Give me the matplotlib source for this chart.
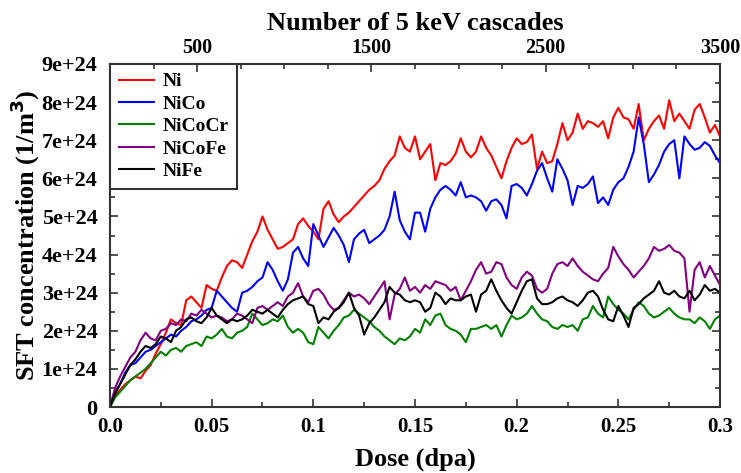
import numpy as np
import matplotlib
matplotlib.use("Agg")
import matplotlib.pyplot as plt
from matplotlib.ticker import MultipleLocator, FuncFormatter

plt.rcParams['font.family'] = ['Liberation Serif', 'DejaVu Serif']
plt.rcParams['font.weight'] = 'bold'

# dose grid (dpa), step 0.0025
dose = np.arange(121) * 0.0025

# SFT concentration, units of 1e24 1/m^3
ni = [0, 0.3, 0.45, 0.6, 0.7, 0.8, 0.75, 0.95, 1.1, 1.4,
      1.65, 1.95, 2.3, 2.2, 2.15, 2.8, 2.9, 2.75, 2.6, 3.2,
      3.1, 3.05, 3.4, 3.7, 3.85, 3.8, 3.65, 4.0, 4.35, 4.6,
      5.0, 4.65, 4.4, 4.15, 4.2, 4.3, 4.4, 4.8, 4.95, 4.75,
      4.6, 4.4, 5.2, 5.4, 5.05, 4.85, 5.0, 5.1, 5.25, 5.4,
      5.55, 5.7, 5.8, 5.95, 6.25, 6.45, 6.6, 7.1, 6.8, 6.7,
      7.1, 6.5, 6.7, 6.9, 5.95, 6.4, 6.35, 6.45, 6.65, 7.05,
      6.7, 6.55, 6.7, 7.1, 6.8, 6.6, 6.3, 6.0, 6.45, 6.8,
      7.05, 6.9, 6.95, 7.15, 6.25, 6.7, 6.4, 6.45, 6.9, 7.45,
      7.0, 7.2, 7.7, 7.3, 7.5, 7.45, 7.35, 7.5, 7.05, 7.6,
      7.85, 7.6, 7.55, 7.3, 7.95, 7.0, 7.3, 7.5, 7.65, 7.3,
      8.05, 7.5, 7.7, 7.5, 7.3, 7.8, 7.95, 7.6, 7.2, 7.4,
      7.1]
nico = [0, 0.4, 0.6, 0.9, 1.1, 1.15, 1.3, 1.45, 1.5, 1.6,
        1.7, 1.8, 1.9, 1.85, 2.0, 2.1, 2.25, 2.3, 2.4, 2.55,
        2.6, 3.05, 2.9, 2.75, 2.6, 2.5, 3.0, 3.05, 3.15, 3.3,
        3.4, 3.8, 3.6, 3.3, 3.05, 3.35, 4.05, 4.2, 3.9, 3.7,
        4.8, 4.5, 4.2, 4.45, 4.7, 4.5, 4.25, 3.8, 4.4, 4.55,
        4.65, 4.3, 4.4, 4.5, 4.65, 5.0, 5.65, 4.9, 4.6, 4.4,
        5.1, 5.1, 4.6, 5.2, 5.5, 5.7, 5.8, 5.7, 5.55, 5.9,
        5.5, 5.55, 5.5, 5.4, 5.15, 5.4, 5.45, 5.3, 4.95, 5.8,
        5.85, 5.75, 5.55, 5.85, 6.2, 6.4, 6.0, 5.65, 6.5, 6.25,
        5.95, 5.3, 5.8, 5.75, 5.85, 6.05, 5.35, 5.5, 5.3, 5.7,
        5.9, 6.0, 6.3, 6.7, 7.6, 6.9, 5.9, 6.1, 6.35, 6.7,
        6.9, 7.0, 6.0, 7.1, 6.9, 6.75, 6.8, 6.95, 6.85, 6.6,
        6.4]
nicocr = [0, 0.25, 0.4, 0.55, 0.7, 0.8, 0.9, 1.0, 1.15, 1.3,
          1.45, 1.35, 1.5, 1.55, 1.45, 1.6, 1.65, 1.7, 1.6, 1.85,
          1.8, 1.9, 2.05, 1.85, 1.8, 1.95, 2.0, 2.1, 2.45, 2.3,
          2.15, 2.2, 2.3, 2.25, 2.4, 2.1, 1.95, 2.05, 1.95, 1.7,
          1.65, 2.1, 1.95, 1.8, 2.0, 2.15, 2.35, 2.4, 2.55, 2.45,
          2.35, 2.25, 2.1, 2.0, 1.85, 1.75, 1.65, 1.8, 1.75, 1.85,
          2.05, 1.95, 2.3, 2.15, 2.4, 2.45, 2.15, 2.05, 2.0, 1.9,
          1.7, 2.05, 2.05, 2.1, 2.15, 2.05, 2.15, 1.85, 2.15, 2.4,
          2.3, 2.35, 2.45, 2.65, 2.45, 2.3, 2.25, 2.1, 2.05, 2.15,
          2.1, 2.15, 2.0, 2.3, 2.35, 2.65, 2.45, 2.35, 2.9, 2.7,
          2.55, 2.45, 2.3, 2.55, 2.75, 2.65, 2.45, 2.35, 2.4, 2.5,
          2.6, 2.45, 2.35, 2.3, 2.3, 2.2, 2.35, 2.25, 2.05, 2.3,
          2.4]
nicofe = [0, 0.5, 0.8, 1.05, 1.3, 1.45, 1.75, 1.95, 1.8, 1.75,
          2.0, 2.05, 2.2, 2.15, 2.3, 2.25, 2.45, 2.4, 2.55, 2.45,
          2.35, 2.4, 2.35, 2.25, 2.3, 2.45, 2.4, 2.3, 2.2, 2.6,
          2.65, 2.55, 2.65, 2.75, 2.65, 2.9, 3.0, 3.25, 2.9, 2.75,
          3.05, 3.1, 2.95, 2.7, 2.55, 2.6, 2.8, 3.0, 2.9, 2.95,
          2.85, 2.7, 2.9, 3.1, 3.3, 2.3, 2.95, 3.1, 3.4, 3.05,
          3.15, 3.0, 3.2, 3.1, 3.3, 3.25, 3.2, 3.05, 3.15, 2.8,
          3.05, 3.3, 3.6, 3.8, 3.5, 3.55, 3.8, 3.75, 3.4, 3.2,
          3.1, 3.4, 3.55, 3.45, 3.1, 3.0, 3.1, 3.5, 3.75, 3.8,
          3.7, 3.9, 3.7, 3.55, 3.45, 3.35, 3.3, 3.5, 3.65, 4.2,
          3.95, 3.75, 3.6, 3.4, 3.55, 3.7, 3.9, 4.2, 4.1, 4.15,
          4.25, 4.1, 4.05, 3.9, 2.5, 3.6, 3.8, 3.4, 3.7, 3.45,
          3.2]
nife = [0, 0.35, 0.6, 0.85, 1.1, 1.25, 1.45, 1.6, 1.55, 1.65,
        1.85, 1.8, 1.7, 2.0, 2.1, 2.3, 2.35, 2.25, 2.2, 2.35,
        2.6, 2.4, 2.3, 2.2, 2.3, 2.25, 2.3, 2.4, 2.55, 2.5,
        2.45, 2.55, 2.45, 2.35, 2.55, 2.7, 2.8, 2.85, 2.9, 2.7,
        2.65, 2.2, 2.35, 2.3, 2.5, 2.6, 2.75, 3.0, 2.6, 2.4,
        1.9, 2.2, 2.35, 2.55, 2.75, 3.15, 3.0, 2.95, 2.8, 2.75,
        2.8, 2.75, 2.5, 2.6, 3.0, 2.9, 2.7, 2.85, 2.8, 2.8,
        2.9, 2.95, 2.5, 2.95, 3.05, 3.35, 3.05, 2.8, 2.6, 2.45,
        2.75, 3.05, 3.3, 3.35, 2.85, 2.7, 2.7, 2.75, 2.85, 2.9,
        2.8, 2.75, 2.65, 2.8, 3.0, 3.05, 2.9, 2.55, 2.3, 2.25,
        2.65, 2.4, 2.1, 2.6, 2.7, 2.85, 2.95, 3.05, 3.3, 3.0,
        2.95, 3.05, 2.9, 2.85, 3.05, 2.8, 2.95, 3.2, 3.05, 3.1,
        3.0]

series = [("Ni", ni, "#ff0000"),
          ("NiCo", nico, "#0000ff"),
          ("NiCoCr", nicocr, "#008000"),
          ("NiCoFe", nicofe, "#800080"),
          ("NiFe", nife, "#000000")]

fig = plt.figure(figsize=(7.41, 4.73), dpi=100)
ax = fig.add_axes([0.1484, 0.1395, 0.8233, 0.7252])

for nome, vals, cor in series:
    ax.plot(dose, np.array(vals) * 1e24, color=cor, lw=1.5, label=nome)

ax.set_xlim(0, 0.3)
ax.set_ylim(0, 9e24)
ax.xaxis.set_major_locator(MultipleLocator(0.05))
ax.xaxis.set_minor_locator(MultipleLocator(0.025))
ax.yaxis.set_major_locator(MultipleLocator(1e24))
ax.yaxis.set_minor_locator(MultipleLocator(0.5e24))

xlab = {0: "0.0", 1: "0.05", 2: "0.1", 3: "0.15", 4: "0.2", 5: "0.25", 6: "0.3"}
ax.xaxis.set_major_formatter(FuncFormatter(lambda v, p: xlab.get(int(round(v / 0.05)), "")))
ax.yaxis.set_major_formatter(FuncFormatter(lambda v, p: "0" if v == 0 else f"{int(round(v / 1e24))}e+24"))

cinza = "#333333"
ax.tick_params(which="both", direction="in", right=True, top=False, color=cinza, width=1.2)
ax.tick_params(which="major", length=6)
ax.tick_params(which="minor", length=3.5)
ax.tick_params(axis="x", labelsize=15, pad=7)
ax.tick_params(axis="y", labelsize=16, pad=9)
for sp in ax.spines.values():
    sp.set_color(cinza)
    sp.set_linewidth(1.5)

ax.set_xlabel("Dose (dpa)", fontsize=19, fontweight="bold", labelpad=8)
ax.set_ylabel("SFT concentration (1/m$^\\mathbf{3}$)", fontsize=19, fontweight="bold", labelpad=0)

# eixo superior: numero de cascatas
ax2 = ax.twiny()
ax2.set_xlim(0, 3500)
ax2.set_xticks([500, 1500, 2500, 3500])
ax2.xaxis.set_minor_locator(MultipleLocator(250))
ax2.tick_params(which="both", direction="in", color=cinza, labelsize=14.5, width=1.2, pad=4)
ax2.tick_params(which="major", length=6)
ax2.tick_params(which="minor", length=3.5)
ax2.set_xlabel("Number of 5 keV cascades", fontsize=19, fontweight="bold", labelpad=6)
for sp in ax2.spines.values():
    sp.set_visible(False)

leg = ax.legend(loc="upper left", borderaxespad=0, fancybox=False, framealpha=1,
                edgecolor="#333333", prop={"size": 14, "weight": "bold"},
                handlelength=1.8, labelspacing=0.25, borderpad=0.45, handletextpad=0.45)
leg.get_frame().set_linewidth(1.5)

fig.savefig("out.png", dpi=100)
